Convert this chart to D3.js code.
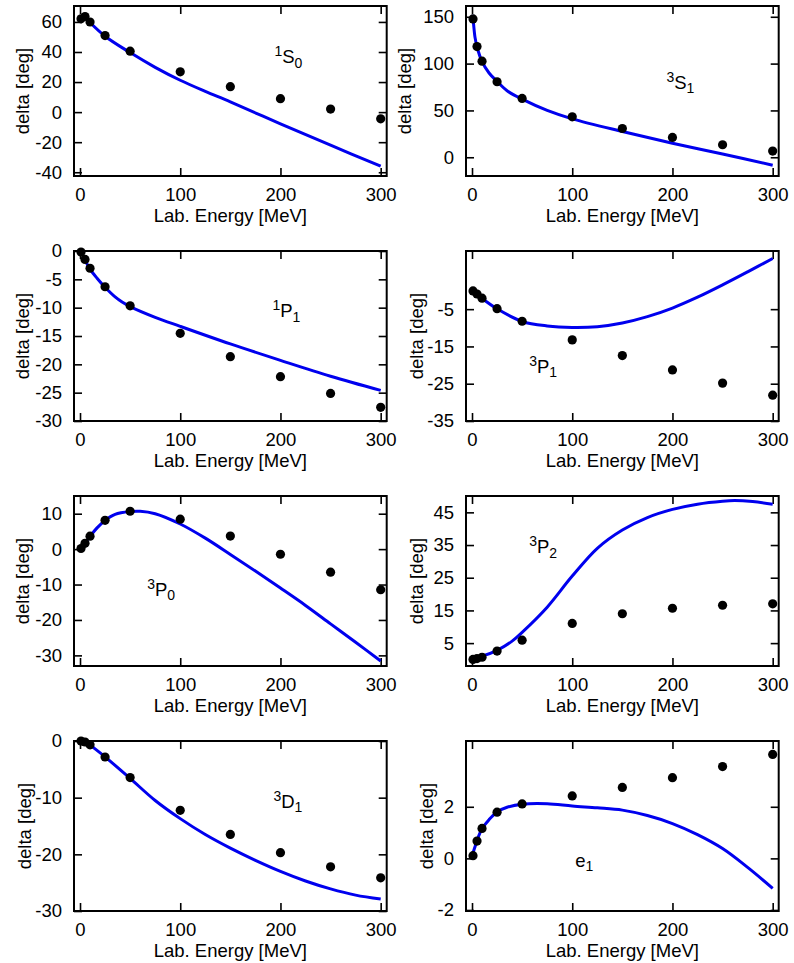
<!DOCTYPE html>
<html>
<head>
<meta charset="utf-8">
<script src="https://cdn.jsdelivr.net/npm/d3@7"></script>
<style>
  body { margin: 0; background: #fff; }
  svg { display: block; }
</style>
</head>
<body>
<svg id="chart" width="794" height="963"></svg>
<script>
// lab energies of the PWA points (MeV)
var energies = [1, 5, 10, 25, 50, 100, 150, 200, 250, 300];

// PWA phase shifts (deg), one value per energy
var pwa1S0 = [62.07, 63.63, 59.96, 50.90, 40.54, 26.78, 16.94, 8.94, 2.04, -4.46];
var pwa3S1 = [147.75, 118.18, 102.61, 80.63, 62.77, 43.23, 30.72, 21.22, 13.39, 6.60];
var pwa1P1 = [-0.19, -1.49, -3.04, -6.31, -9.67, -14.52, -18.65, -22.18, -25.13, -27.58];
var pwa3P1 = [-0.11, -0.94, -2.06, -4.88, -8.25, -13.24, -17.46, -21.30, -24.84, -28.07];
var pwa3P0 = [0.18, 1.63, 3.65, 8.13, 10.70, 8.46, 3.69, -1.44, -6.51, -11.47];
var pwa3P2 = [0.02, 0.26, 0.67, 2.56, 5.89, 11.01, 13.98, 15.66, 16.59, 17.03];
var pwa3D1 = [-0.005, -0.18, -0.68, -2.82, -6.45, -12.23, -16.48, -19.71, -22.21, -24.14];
var pwaE1 = [0.105, 0.67, 1.16, 1.79, 2.11, 2.42, 2.75, 3.13, 3.56, 4.03];

// model curves: [energy, delta]
var fit1S0 = [[10, 59.6], [25, 50.5], [50, 39.6], [75, 29.8], [100, 21.2], [125, 13.8], [150, 6.8],
              [200, -7.8], [250, -22], [300, -36]];
var fit3S1 = [[0, 152], [1, 147], [3, 128], [5, 118], [10, 102], [17, 90], [25, 81], [35, 71], [50, 62],
              [75, 50], [100, 41], [150, 27.5], [200, 15], [250, 3.5], [300, -8.5]];
var fit1P1 = [[5, -1.6], [10, -3.2], [17, -4.8], [25, -6.4], [35, -8.1], [42, -9.0], [50, -9.8], [75, -11.7],
              [100, -13.3], [150, -16.4], [200, -19.3], [250, -22.1], [300, -24.6]];
var fit3P1 = [[5, -1.0], [10, -2.1], [25, -4.9], [50, -8.3], [75, -9.5], [100, -9.9], [125, -9.7],
              [150, -8.7], [175, -7.0], [200, -4.7], [225, -1.8], [250, 1.5], [275, 5.0], [300, 8.6]];
var fit3P0 = [[5, 1.7], [10, 3.6], [17, 6], [25, 8.1], [35, 9.8], [50, 10.6], [60, 10.7], [75, 10.0], [100, 7.1],
              [125, 3.1], [150, -1.5], [175, -6.2], [200, -11.0], [225, -15.9], [250, -21.1], [275, -26.3], [300, -31.6]];
var fit3P2 = [[0, 0.3], [5, 0.6], [10, 1.0], [25, 2.8], [40, 5.6], [50, 8.3], [75, 16], [100, 25.5], [125, 34.0],
              [150, 39.6], [175, 43.4], [200, 45.9], [225, 47.5], [250, 48.4], [262, 48.6], [280, 48.3], [300, 47.5]];
var fit3D1 = [[8, -0.4], [10, -0.7], [25, -2.8], [50, -6.6], [75, -10.5], [100, -13.7], [125, -16.5], [150, -18.9],
              [175, -21.05], [200, -23.0], [225, -24.7], [250, -26.1], [275, -27.2], [300, -27.9]];
var fitE1 = [[0, 0.1], [3, 0.45], [5, 0.7], [10, 1.15], [17, 1.5], [25, 1.8], [35, 1.98], [50, 2.1], [75, 2.12],
             [100, 2.03], [125, 1.96], [150, 1.87], [175, 1.66], [200, 1.35], [225, 0.92], [250, 0.38], [275, -0.35], [300, -1.16]];

// axis ticks
var xTicks = [0, 100, 200, 300];
var yTicks1S0 = [-40, -20, 0, 20, 40, 60];
var yTicks3S1 = [0, 50, 100, 150];
var yTicks1P1 = [-30, -25, -20, -15, -10, -5, 0];
var yTicks3P1 = [-35, -25, -15, -5];
var yTicks3P0 = [-30, -20, -10, 0, 10];
var yTicks3P2 = [5, 15, 25, 35, 45];
var yTicks3D1 = [-30, -20, -10, 0];
var yTicksE1 = [-2, 0, 2];

var panels = [
  { row: 0, col: 0, pts: pwa1S0, fit: fit1S0, ydom: [-42.5, 70.6], yticks: yTicks1S0, ytx: -44.6, sup: "1", main: "S", sub: "0", at: [194, 32.6] },
  { row: 0, col: 1, pts: pwa3S1, fit: fit3S1, ydom: [-20, 161.5], yticks: yTicks3S1, ytx: -55, sup: "3", main: "S", sub: "1", at: [194, 73.2] },
  { row: 1, col: 0, pts: pwa1P1, fit: fit1P1, ydom: [-30, 0], yticks: yTicks1P1, ytx: -44.6, sup: "1", main: "P", sub: "1", at: [192, -11.7] },
  { row: 1, col: 1, pts: pwa3P1, fit: fit3P1, ydom: [-35, 10.6], yticks: yTicks3P1, ytx: -43.2, sup: "3", main: "P", sub: "1", at: [57, -22.1] },
  { row: 2, col: 0, pts: pwa3P0, fit: fit3P0, ydom: [-33, 15], yticks: yTicks3P0, ytx: -45, sup: "3", main: "P", sub: "0", at: [67, -13.1] },
  { row: 2, col: 1, pts: pwa3P2, fit: fit3P2, ydom: [-2, 50], yticks: yTicks3P2, ytx: -43.2, sup: "3", main: "P", sub: "2", at: [57, 32.5] },
  { row: 3, col: 0, pts: pwa3D1, fit: fit3D1, ydom: [-30, 0], yticks: yTicks3D1, ytx: -43, sup: "3", main: "D", sub: "1", at: [193, -11.8] },
  { row: 3, col: 1, pts: pwaE1, fit: fitE1, ydom: [-2.04, 4.55], yticks: yTicksE1, ytx: -33.2, sup: "", main: "e", sub: "1", at: [103, -0.33] }
];

var fontFam = "'Liberation Sans', Arial, Helvetica, sans-serif";
var W = 312.7, H = 170;
var colLeft = [74, 466];
var rowTop = [6, 251, 496, 741];

var svg = d3.select("#chart");

panels.forEach(function (p) {
  var g = svg.append("g")
    .attr("transform", "translate(" + colLeft[p.col] + "," + rowTop[p.row] + ")");

  var x = d3.scaleLinear().domain([-6, 306]).range([0, W]);
  var y = d3.scaleLinear().domain(p.ydom).range([H, 0]);
  var fmt = function (d) { return String(d); };

  // axes, ticks pointing inward on all four sides
  var ax = [
    g.append("g").attr("transform", "translate(0," + H + ")")
      .call(d3.axisBottom(x).tickValues(xTicks).tickSize(-8).tickPadding(11.5).tickFormat(fmt)),
    g.append("g")
      .call(d3.axisTop(x).tickValues(xTicks).tickSize(-8).tickFormat("")),
    g.append("g")
      .call(d3.axisLeft(y).tickValues(p.yticks).tickSize(-8).tickPadding(12).tickFormat(fmt)),
    g.append("g").attr("transform", "translate(" + W + ",0)")
      .call(d3.axisRight(y).tickValues(p.yticks).tickSize(-8).tickFormat(""))
  ];
  ax.forEach(function (a) {
    a.select(".domain").remove();
    a.attr("font-family", fontFam).attr("font-size", 18.5);
    a.selectAll(".tick line").attr("stroke", "#000").attr("stroke-width", 1.6);
    a.selectAll(".tick text").attr("fill", "#000");
  });

  // frame
  g.append("rect")
    .attr("width", W).attr("height", H)
    .attr("fill", "none").attr("stroke", "#000").attr("stroke-width", 2);

  // axis titles
  g.append("text")
    .attr("x", W / 2).attr("y", H + 46)
    .attr("text-anchor", "middle")
    .attr("font-family", fontFam).attr("font-size", 18.5)
    .text("Lab. Energy [MeV]");

  g.append("text")
    .attr("transform", "translate(" + p.ytx + "," + (H / 2) + ") rotate(-90)")
    .attr("text-anchor", "middle")
    .attr("font-family", fontFam).attr("font-size", 18.5)
    .text("delta [deg]");

  // model curve
  var line = d3.line()
    .x(function (d) { return x(d[0]); })
    .y(function (d) { return y(d[1]); })
    .curve(d3.curveCatmullRom.alpha(0.5));

  g.append("path")
    .datum(p.fit)
    .attr("d", line)
    .attr("fill", "none")
    .attr("stroke", "#0000ee")
    .attr("stroke-width", 3);

  // PWA points
  g.selectAll("circle")
    .data(p.pts)
    .enter().append("circle")
    .attr("cx", function (d, i) { return x(energies[i]); })
    .attr("cy", function (d) { return y(d); })
    .attr("r", 4.6)
    .attr("fill", "#000");

  // partial wave label
  var t = g.append("text")
    .attr("x", x(p.at[0])).attr("y", y(p.at[1]))
    .attr("font-family", fontFam).attr("font-size", 18.5);
  if (p.sup) {
    t.append("tspan").attr("font-size", 14).attr("dy", -7).text(p.sup);
    t.append("tspan").attr("dy", 7).text(p.main);
  } else {
    t.append("tspan").text(p.main);
  }
  t.append("tspan").attr("font-size", 14).attr("dy", 4.5).text(p.sub);
});
</script>
</body>
</html>
